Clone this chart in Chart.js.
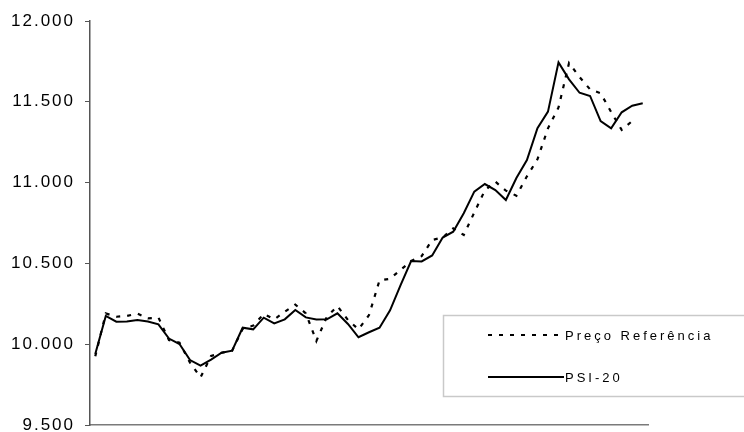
<!DOCTYPE html>
<html>
<head>
<meta charset="utf-8">
<script src="https://cdn.jsdelivr.net/npm/chart.js@4"></script>
<style>
  html, body { margin: 0; padding: 0; background: #fff; }
  #wrap { width: 744px; height: 432px; }
</style>
</head>
<body>
<div id="wrap"><canvas id="c" width="744" height="432"></canvas></div>
<script>
// Trading sessions (one point per session)
const sessions = [1, 2, 3, 4, 5, 6, 7, 8, 9, 10, 11, 12, 13, 14, 15, 16, 17, 18, 19, 20,
  21, 22, 23, 24, 25, 26, 27, 28, 29, 30, 31, 32, 33, 34, 35, 36, 37, 38, 39, 40,
  41, 42, 43, 44, 45, 46, 47, 48, 49, 50, 51, 52, 53];

const seriesNames = ['Preço Referência', 'PSI-20'];

const precoReferencia = [9925, 10190, 10170, 10175, 10190, 10160, 10165, 10025, 10010, 9886,
  9795, 9927, 9947, 9960, 10095, 10115, 10187, 10154, 10201, 10245,
  10191, 10020, 10170, 10236, 10150, 10092, 10180, 10395, 10405, 10460,
  10515, 10545, 10645, 10660, 10717, 10676, 10815, 10951, 11006, 10950,
  10919, 11039, 11144, 11336, 11465, 11740, 11653, 11577, 11553, 11437,
  11326, 11381, null];

const psi20 = [9940, 10175, 10139, 10140, 10150, 10140, 10123, 10035, 10001, 9902,
  9867, 9905, 9947, 9960, 10102, 10092, 10164, 10129, 10154, 10212,
  10166, 10153, 10154, 10191, 10125, 10043, 10074, 10102, 10210, 10366,
  10515, 10512, 10549, 10660, 10696, 10810, 10944, 10991, 10954, 10892,
  11028, 11140, 11336, 11439, 11744, 11639, 11556, 11536, 11381, 11336,
  11435, 11476, 11491];

const yTickValues = [9500, 10000, 10500, 11000, 11500, 12000];
const yTickLabels = ['9.500', '10.000', '10.500', '11.000', '11.500', '12.000'];

const FONT = "'Liberation Sans', Arial, sans-serif";

// Wide tracking for the axis text
const tracking = {
  id: 'tracking',
  beforeDraw(chart) { chart.ctx.letterSpacing = '2px'; },
  afterDatasetsDraw(chart) { chart.ctx.letterSpacing = '0px'; }
};

// Framed legend in the lower right
const framedLegend = {
  id: 'framedLegend',
  afterDraw(chart) {
    const ctx = chart.ctx;
    ctx.save();
    ctx.strokeStyle = '#c9c9c9';
    ctx.lineWidth = 1.5;
    ctx.setLineDash([]);
    ctx.strokeRect(443.5, 315.5, 330, 81);
    const rows = [335, 377];
    chart.data.datasets.forEach((ds, i) => {
      const y = rows[i];
      ctx.beginPath();
      ctx.strokeStyle = ds.borderColor;
      ctx.lineWidth = ds.borderWidth;
      ctx.setLineDash(ds.borderDash || []);
      ctx.moveTo(488, y);
      ctx.lineTo(564, y);
      ctx.stroke();
      ctx.setLineDash([]);
      ctx.fillStyle = '#000';
      ctx.font = '13px ' + FONT;
      ctx.letterSpacing = '3px';
      ctx.textBaseline = 'middle';
      ctx.textAlign = 'left';
      ctx.fillText(ds.label, 565, y + 1);
    });
    ctx.restore();
  }
};

new Chart(document.getElementById('c'), {
  type: 'line',
  data: {
    labels: sessions,
    datasets: [
      {
        label: seriesNames[0],
        data: precoReferencia,
        borderColor: '#000',
        borderWidth: 2.2,
        borderDash: [4, 7],
        pointRadius: 0,
        tension: 0,
        fill: false,
        spanGaps: false
      },
      {
        label: seriesNames[1],
        data: psi20,
        borderColor: '#000',
        borderWidth: 2,
        pointRadius: 0,
        tension: 0,
        fill: false
      }
    ]
  },
  options: {
    responsive: false,
    animation: false,
    devicePixelRatio: 1,
    layout: { padding: { top: 21, bottom: 7, left: 0, right: 96 } },
    plugins: {
      legend: { display: false },
      tooltip: { enabled: false }
    },
    scales: {
      x: {
        type: 'category',
        offset: true,
        grid: { display: false, drawTicks: false },
        ticks: { display: false },
        border: { display: true, color: '#7a7a7a', width: 1.5 }
      },
      y: {
        min: 9500,
        max: 12000,
        afterBuildTicks(scale) {
          scale.ticks = yTickValues.map(v => ({ value: v }));
        },
        afterFit(scale) {
          scale.width = 90;
          scale.paddingTop = 0;
          scale.paddingBottom = 0;
        },
        grid: {
          drawOnChartArea: false,
          drawTicks: true,
          tickLength: 5,
          color: '#555'
        },
        border: { display: true, color: '#555', width: 1.5 },
        ticks: {
          padding: 10,
          color: '#000',
          font: { family: FONT, size: 17 },
          callback(value) {
            const i = yTickValues.indexOf(value);
            return i >= 0 ? yTickLabels[i] : '';
          }
        }
      }
    }
  },
  plugins: [tracking, framedLegend]
});
</script>
</body>
</html>
